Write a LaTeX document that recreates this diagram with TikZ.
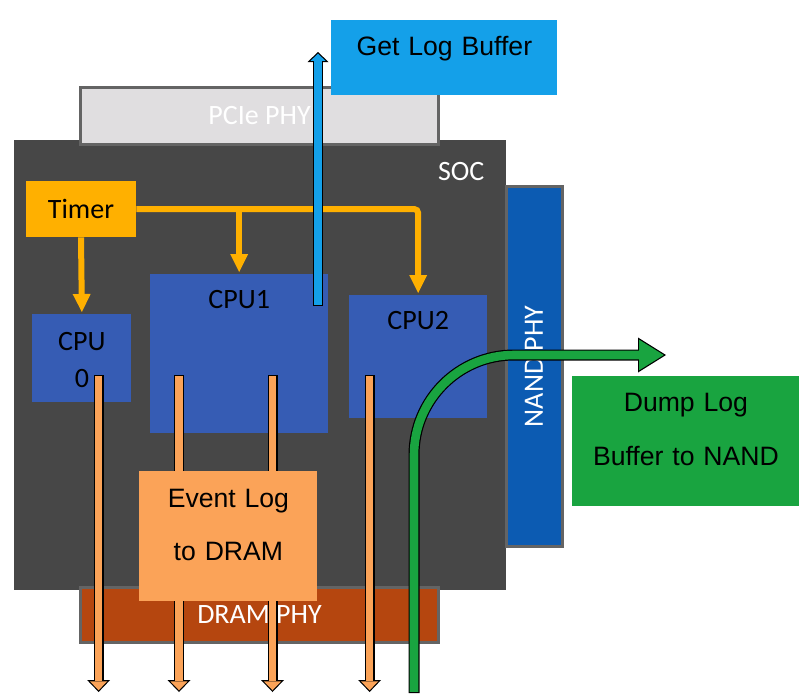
\documentclass[tikz,border=0pt]{standalone}
\usepackage{fontspec}
\setmainfont{Carlito}
\newfontfamily\arialfont{Liberation Sans}
\usetikzlibrary{arrows.meta, positioning, calc}

\definecolor{socgray}{RGB}{71, 71, 71}
\definecolor{phygray}{RGB}{224, 222, 224}
\definecolor{edgegray}{RGB}{100, 100, 100}
\definecolor{nandblue}{RGB}{12, 91, 178}
\definecolor{cpublue}{RGB}{54, 92, 180}
\definecolor{timeramber}{RGB}{255, 176, 0}
\definecolor{logorange}{RGB}{251, 163, 88}
\definecolor{dramrust}{RGB}{181, 70, 15}
\definecolor{dumpgreen}{RGB}{25, 164, 64}
\definecolor{hostblue}{RGB}{20, 160, 233}

\tikzset{
  calfont/.style={font=\fontsize{14}{18.5}\selectfont},
  arialtext/.style={font=\arialfont\fontsize{13.3}{26.5}\selectfont},
  phybox/.style={draw=edgegray, line width=1.5pt, text=white, calfont, inner sep=0pt},
  cpubox/.style={fill=cpublue, calfont, inner sep=0pt, anchor=north west},
  actionbox/.style={arialtext, inner sep=0pt, anchor=north west, align=center},
  timerline/.style={draw=timeramber, line width=3pt, shorten >=1pt,
    -{Triangle[width=9pt, length=9pt, line width=0pt]}},
  dramarrow/.style={draw=black, line width=5pt, -{Triangle[width=11.5pt, length=6pt, line width=0pt]},
    postaction={draw=logorange, line width=3.8pt, shorten <=0.6pt, shorten >=0.87pt,
      -{Triangle[width=8.7pt, length=4.5pt, line width=0pt]}}},
  hostarrow/.style={draw=black, line width=4.8pt, -{Triangle[width=10.5pt, length=5pt, line width=0pt]},
    postaction={draw=hostblue, line width=3.6pt, shorten <=0.6pt, shorten >=0.83pt,
      -{Triangle[width=7.5pt, length=3.6pt, line width=0pt]}}},
  nandarrow/.style={draw=black, line width=5.5pt, -{Triangle[width=17.5pt, length=14pt, line width=0pt]},
    postaction={draw=dumpgreen, line width=4.3pt, shorten <=0.6pt, shorten >=1.13pt,
      -{Triangle[width=15.3pt, length=12.3pt, line width=0pt]}}}
}

\begin{document}
\begin{tikzpicture}[x=0.5pt, y=-0.5pt]
  \useasboundingbox (0,0) rectangle (799,698);

  % Chip and its PHYs
  \node[fill=socgray, text=white, calfont, anchor=north west, inner xsep=11pt, inner ysep=0pt,
        text width=224pt, align=right, text height=20pt, text depth=205pt] (soc) at (14,140) {SOC};
  \node[phybox, fill=phygray, minimum width=179pt, minimum height=28.5pt] (pcie) at (259.5,116) {PCIe PHY};
  \node[phybox, fill=nandblue, rotate=90, minimum width=180pt, minimum height=28pt] (nand) at (534,366.5) {NAND PHY};
  \node[phybox, fill=dramrust, minimum width=179pt, minimum height=27.5pt] (dram) at (259.5,615) {DRAM PHY};

  % CPUs and timer
  \node[cpubox, text width=49.5pt, align=center, text height=18pt, text depth=26pt] (cpu0) at (32,314) {CPU\\0};
  \node[cpubox, minimum width=88.75pt, text height=17.15pt, text depth=62.35pt] (cpu1) at (150,274) {CPU1};
  \node[cpubox, minimum width=68.75pt, text height=17pt, text depth=44.5pt] (cpu2) at (349,295) {CPU2};
  \node[fill=timeramber, calfont, minimum width=55pt, minimum height=28pt, inner sep=0pt] (timer) at (81,209) {Timer};

  % Timer ticks
  \draw[timerline] (timer.south) -- (cpu0.north);
  \draw[timerline, rounded corners=2pt] (timer.east) -| (cpu2.north);
  \draw[timerline] (timer.east -| cpu1.north) -- (cpu1.north);

  % Host reads the log
  \coordinate (fetch) at (318,306);
  \coordinate (hostend) at (318,52);
  \draw[hostarrow] (fetch) -- (hostend);
  \node[actionbox, fill=hostblue, text width=113pt, text height=17.5pt, text depth=20pt] (getlog) at (331,20) {Get Log Buffer};

  % Event log to DRAM
  \coordinate (log0) at (98.6,375);  \coordinate (out0) at (98.6,692);
  \coordinate (log1) at (179,375);   \coordinate (out1) at (179,692);
  \coordinate (log2) at (272.5,375); \coordinate (out2) at (272.5,692);
  \coordinate (log3) at (369.6,375); \coordinate (out3) at (369.6,692);
  \draw[dramarrow] (log0) -- (out0);
  \draw[dramarrow] (log1) -- (out1);
  \draw[dramarrow] (log2) -- (out2);
  \draw[dramarrow] (log3) -- (out3);
  \node[actionbox, fill=logorange, text width=89pt, text height=18pt, text depth=47pt] (eventlog) at (139,471) {Event Log\\to DRAM};

  % Dump to NAND
  \coordinate (nandin) at (414,693);
  \coordinate (nandout) at (666,355);
  \draw[nandarrow, rounded corners=50pt] (nandin) |- (nandout);
  \node[actionbox, fill=dumpgreen, text width=113.5pt, text height=17.75pt, text depth=47pt, font=\arialfont\fontsize{13.3}{26.75}\selectfont] (dumplog) at (572,376) {Dump Log\\Buffer to NAND};
\end{tikzpicture}
\end{document}
